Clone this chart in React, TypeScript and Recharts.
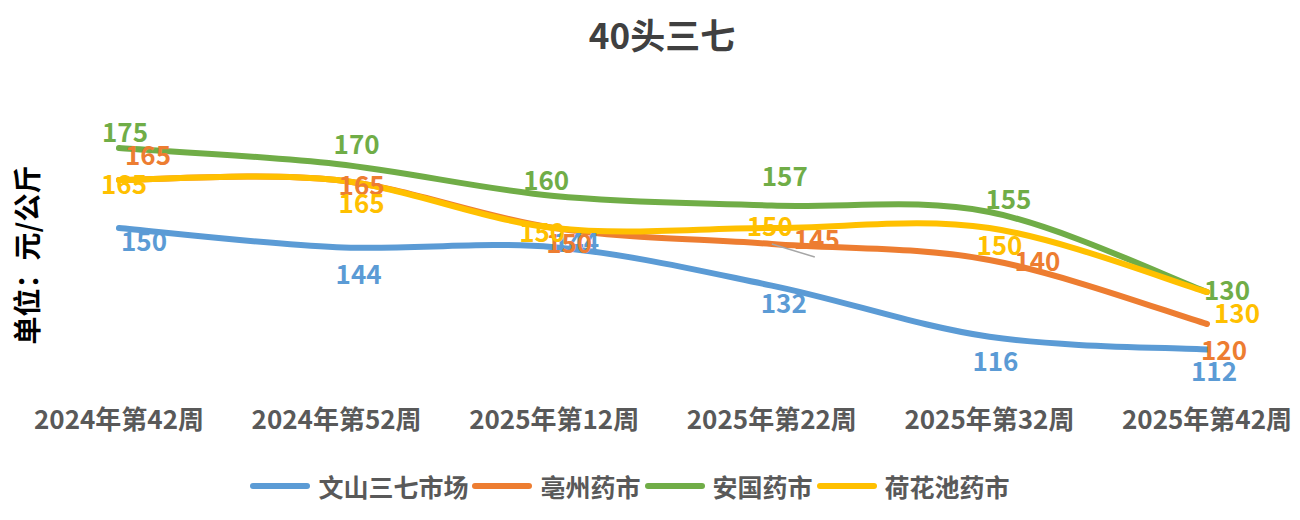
import React from 'react';
import { LineChart, Line, XAxis, YAxis, Legend, LabelList } from 'recharts';

const weeks = ['2024年第42周', '2024年第52周', '2025年第12周', '2025年第22周', '2025年第32周', '2025年第42周'];
const wenshan = [150, 144, 144, 132, 116, 112];
const bozhou = [165, 165, 150, 145, 140, 120];
const anguo = [175, 170, 160, 157, 155, 130];
const hehuachi = [165, 165, 150, 150, 150, 130];

const FONT = "'Noto Sans CJK SC', 'Noto Sans', sans-serif";

// where each value label sits relative to its point (Excel labels were dragged around)
const labelNudges: Record<string, [number, number][]> = {
  wenshan: [[25, 11], [22, 25], [22, -7], [12, 16], [6, 23], [7, 20]],
  bozhou: [[29, -27], [25, 3], [15, 13], [45, -7], [48, -1], [17, 24]],
  anguo: [[6, -18], [20, -22], [-8, -18], [13, -31], [19, -15], [20, -4]],
  hehuachi: [[5, 2], [25, 21], [-12, 2], [-2, -4], [10, 15], [30, 19]],
};

const series = [
  { key: 'wenshan', name: '文山三七市场', color: '#5B9BD5' },
  { key: 'bozhou', name: '亳州药市', color: '#ED7D31' },
  { key: 'anguo', name: '安国药市', color: '#70AD47' },
  { key: 'hehuachi', name: '荷花池药市', color: '#FFC000' },
];

const data = weeks.map((week, i) => ({
  week,
  wenshan: wenshan[i],
  bozhou: bozhou[i],
  anguo: anguo[i],
  hehuachi: hehuachi[i],
}));

// Excel style smoothing (Catmull-Rom through the points)
const excelSmooth = (context: any) => {
  let pts: [number, number][] = [];
  return {
    areaStart() {},
    areaEnd() {},
    lineStart() {
      pts = [];
    },
    point(x: number, y: number) {
      pts.push([+x, +y]);
    },
    lineEnd() {
      if (!pts.length) return;
      context.moveTo(pts[0][0], pts[0][1]);
      for (let i = 0; i < pts.length - 1; i++) {
        const p0 = pts[i - 1] || pts[i];
        const p1 = pts[i];
        const p2 = pts[i + 1];
        const p3 = pts[i + 2] || p2;
        context.bezierCurveTo(
          p1[0] + (p2[0] - p0[0]) / 6,
          p1[1] + (p2[1] - p0[1]) / 6,
          p2[0] - (p3[0] - p1[0]) / 6,
          p2[1] - (p3[1] - p1[1]) / 6,
          p2[0],
          p2[1]
        );
      }
    },
  };
};

const makeLabel = (key: string, color: string) => (props: any) => {
  const { x, y, value, index } = props;
  const [dx, dy] = labelNudges[key][index] || [0, -18];
  return (
    <g>
      {key === 'bozhou' && index === 3 && (
        <line x1={x} y1={y} x2={x + 43} y2={y + 13} stroke="#A6A6A6" strokeWidth={1.5} />
      )}
      <text
        x={x + dx}
        y={y + dy}
        textAnchor="middle"
        dominantBaseline="central"
        fill={color}
        fontSize={26}
        fontWeight="bold"
        fontFamily={FONT}
      >
        {value}
      </text>
    </g>
  );
};

const YUnitLabel = (props: any) => {
  const { viewBox } = props;
  const cy = viewBox.y + viewBox.height / 2 - 5;
  return (
    <text
      x={18}
      y={cy}
      transform={`rotate(-90, 18, ${cy})`}
      textAnchor="middle"
      dominantBaseline="central"
      fill="#000000"
      fontSize={28}
      fontWeight="bold"
      fontFamily={FONT}
    >
      单位：元/公斤
    </text>
  );
};

const LegendRow = () => (
  <div style={{ display: 'flex', justifyContent: 'center', alignItems: 'center', height: 30, fontFamily: FONT }}>
    {series.map((s) => (
      <div key={s.key} style={{ display: 'flex', alignItems: 'center', marginRight: 3 }}>
        <svg width={62} height={10} style={{ marginRight: 7 }}>
          <line x1={4} y1={5} x2={58} y2={5} stroke={s.color} strokeWidth={6} strokeLinecap="round" />
        </svg>
        <span style={{ fontSize: 25, fontWeight: 'bold', color: '#595959' }}>{s.name}</span>
      </div>
    ))}
  </div>
);

const App: React.FC = () => {
  return (
    <div style={{ position: 'relative', width: 1284, height: 504, fontFamily: FONT, background: '#fff' }}>
      <div
        style={{
          position: 'absolute',
          top: 4,
          left: 12,
          width: 1284,
          textAlign: 'center',
          fontSize: 35,
          fontWeight: 'bold',
          color: '#404040',
          lineHeight: '44px',
        }}
      >
        40头三七
      </div>
      <LineChart width={1284} height={504} data={data} margin={{ top: 124, right: 85, left: 0, bottom: 11 }}>
        <XAxis
          dataKey="week"
          interval={0}
          tickLine={false}
          axisLine={false}
          height={83}
          tickMargin={17}
          tick={{ fill: '#595959', fontSize: 26, fontWeight: 'bold', fontFamily: FONT }}
        />
        <YAxis
          domain={[100, 180]}
          width={111}
          tick={false}
          tickLine={false}
          axisLine={false}
          label={{ content: YUnitLabel }}
        />
        <Legend
          verticalAlign="bottom"
          height={30}
          content={LegendRow}
          wrapperStyle={{ left: 0, width: 1246 }}
        />
        {series.map((s) => (
          <Line
            key={s.key}
            dataKey={s.key}
            name={s.name}
            type={excelSmooth as any}
            stroke={s.color}
            strokeWidth={6}
            strokeLinecap="round"
            dot={false}
            activeDot={false}
            isAnimationActive={false}
          >
            <LabelList dataKey={s.key} content={makeLabel(s.key, s.color)} />
          </Line>
        ))}
      </LineChart>
    </div>
  );
};

export default App;
